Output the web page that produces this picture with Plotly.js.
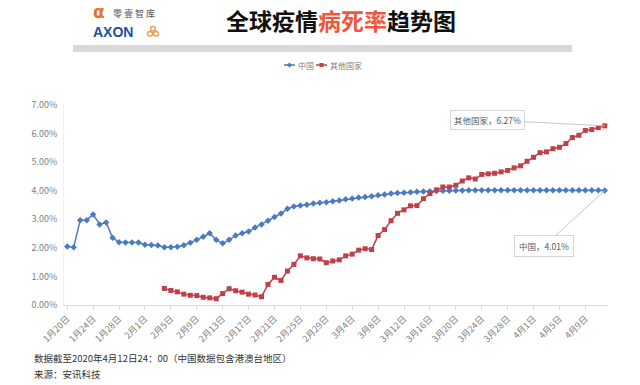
<!DOCTYPE html>
<html>
<head>
<meta charset="utf-8">
<script src="https://cdn.plot.ly/plotly-3.0.1.min.js"></script>
<style>
html,body{margin:0;padding:0;background:#ffffff;}
#chart{width:640px;height:385px;}
</style>
</head>
<body>
<div id="chart"></div>
<script>
// ---- data (case fatality rate, %) ----
const seriesNames = ["中国", "其他国家"];

// daily values from 1月20日 to 4月12日
const chinaRate = [
  2.05, 2.02, 2.97, 2.97, 3.17, 2.82, 2.89, 2.35, 2.20, 2.19,
  2.19, 2.19, 2.11, 2.10, 2.08, 2.02, 2.02, 2.04, 2.09, 2.18,
  2.28, 2.39, 2.51, 2.28, 2.16, 2.28, 2.43, 2.51, 2.57, 2.71,
  2.82, 2.95, 3.08, 3.20, 3.37, 3.45, 3.48, 3.51, 3.55, 3.58,
  3.60, 3.63, 3.66, 3.70, 3.73, 3.76, 3.78, 3.81, 3.84, 3.87,
  3.90, 3.92, 3.93, 3.95, 3.96, 3.97, 3.98, 3.99, 4.00, 4.00,
  4.01, 4.01, 4.02, 4.02, 4.02, 4.02, 4.02, 4.02, 4.02, 4.02,
  4.02, 4.02, 4.02, 4.02, 4.02, 4.02, 4.02, 4.02, 4.02, 4.02,
  4.02, 4.02, 4.02, 4.01
];

const otherRate = [
  null, null, null, null, null, null, null, null, null, null,
  null, null, null, null, null, 0.58, 0.51, 0.46, 0.38, 0.34,
  0.33, 0.27, 0.25, 0.22, 0.40, 0.57, 0.50, 0.45, 0.38, 0.35,
  0.29, 0.72, 0.97, 0.86, 1.19, 1.42, 1.72, 1.65, 1.62, 1.61,
  1.48, 1.54, 1.58, 1.72, 1.78, 1.92, 1.97, 1.94, 2.43, 2.64,
  2.95, 3.21, 3.33, 3.47, 3.48, 3.72, 3.90, 4.03, 4.13, 4.13,
  4.19, 4.34, 4.45, 4.41, 4.57, 4.59, 4.61, 4.66, 4.71, 4.80,
  4.87, 5.03, 5.17, 5.33, 5.36, 5.47, 5.52, 5.65, 5.86, 5.94,
  6.11, 6.14, 6.21, 6.27
];

// x-axis tick labels (every 4 days)
const tickLabels = [
  "1月20日", "1月24日", "1月28日", "2月1日", "2月5日", "2月9日", "2月13日",
  "2月17日", "2月21日", "2月25日", "2月29日", "3月4日", "3月8日", "3月12日",
  "3月16日", "3月20日", "3月24日", "3月28日", "4月1日", "4月5日", "4月9日"
];
const tickStep = 4;
const yTicks = [0, 1, 2, 3, 4, 5, 6, 7];

const titleParts = ["全球疫情", "病死率", "趋势图"];
const footLines = ["数据截至2020年4月12日24：00（中国数据包含港澳台地区）", "来源：安讯科技"];

// ---- layout helpers ----
const W = 640, H = 385, ML = 64, MR = 32, MT = 105, MB = 80;
const PW = W - ML - MR, PH = H - MT - MB;
const px = x => (x - ML) / PW;          // pixel x -> paper
const py = y => (H - MB - y) / PH;      // pixel y -> paper

const BLUE = "#4A7BC2", RED = "#C0404A";
const FONT = "'Noto Sans CJK SC', 'Noto Sans', sans-serif";

const idx = chinaRate.map((_, i) => i);
const tickVals = tickLabels.map((_, k) => k * tickStep);
const last = chinaRate.length - 1;

const traces = [
  {
    x: idx, y: chinaRate, name: seriesNames[0], type: "scatter", mode: "lines+markers",
    line: {color: BLUE, width: 1.5},
    marker: {symbol: "diamond", size: 5, color: BLUE},
    hoverinfo: "skip", showlegend: false
  },
  {
    x: idx, y: otherRate, name: seriesNames[1], type: "scatter", mode: "lines+markers",
    line: {color: RED, width: 1.5},
    marker: {symbol: "square", size: 5, color: RED},
    connectgaps: false, hoverinfo: "skip", showlegend: false
  }
];

// custom small legend
const legendItems = [
  {name: seriesNames[0], color: BLUE, x0: 284, marker: "diamond"},
  {name: seriesNames[1], color: RED, x0: 316, marker: "square"}
];
const legY = 65;

const shapes = [
  // grey header bar
  {type: "rect", xref: "paper", yref: "paper", x0: px(73), x1: px(572), y0: py(52), y1: py(45),
   fillcolor: "#d9d9d9", line: {width: 0}, layer: "below"},
  // orange logo icon
  {type: "circle", xref: "paper", yref: "paper", x0: px(150.5), x1: px(155.5), y0: py(31), y1: py(26.5),
   line: {color: "#F39A4A", width: 1.4}},
  {type: "circle", xref: "paper", yref: "paper", x0: px(147.5), x1: px(152.5), y0: py(36), y1: py(31.5),
   line: {color: "#F39A4A", width: 1.4}},
  {type: "circle", xref: "paper", yref: "paper", x0: px(153.5), x1: px(158.5), y0: py(36), y1: py(31.5),
   line: {color: "#F39A4A", width: 1.4}}
];
legendItems.forEach(it => {
  shapes.push({type: "line", xref: "paper", yref: "paper", x0: px(it.x0), x1: px(it.x0 + 11),
    y0: py(legY), y1: py(legY), line: {color: it.color, width: 1.5}});
  const cx = it.x0 + 5.5;
  if (it.marker === "diamond") {
    const d = 2.3;
    shapes.push({type: "path", xref: "paper", yref: "paper",
      path: `M ${px(cx - d)} ${py(legY)} L ${px(cx)} ${py(legY - d)} L ${px(cx + d)} ${py(legY)} L ${px(cx)} ${py(legY + d)} Z`,
      fillcolor: it.color, line: {color: it.color, width: 0.5}});
  } else {
    const d = 2;
    shapes.push({type: "rect", xref: "paper", yref: "paper", x0: px(cx - d), x1: px(cx + d),
      y0: py(legY + d), y1: py(legY - d), fillcolor: it.color, line: {width: 0}});
  }
});

const annotations = [
  // title
  {xref: "paper", yref: "paper", x: px(341), y: py(20), xanchor: "center", yanchor: "middle",
   showarrow: false,
   text: `<b>${titleParts[0]}<span style="color:#F2563C">${titleParts[1]}</span>${titleParts[2]}</b>`,
   font: {family: FONT, size: 23, color: "#111111"}},
  // logo
  {xref: "paper", yref: "paper", x: px(91), y: py(12), xanchor: "left", yanchor: "middle",
   showarrow: false, text: "<b>α</b>", font: {family: "'DejaVu Sans', sans-serif", size: 17, color: "#EE6F2D"}},
  {xref: "paper", yref: "paper", x: px(111), y: py(13), xanchor: "left", yanchor: "middle",
   showarrow: false, text: "零 壹 智 库", font: {family: FONT, size: 9, color: "#555555"}},
  {xref: "paper", yref: "paper", x: px(91), y: py(31.5), xanchor: "left", yanchor: "middle",
   showarrow: false, text: "<b>AXON</b>", font: {family: "'Liberation Sans', Arial, sans-serif", size: 14, color: "#1C4F9E"}},
  // footer
  {xref: "paper", yref: "paper", x: px(32), y: py(358), xanchor: "left", yanchor: "middle",
   showarrow: false, text: footLines[0], font: {family: FONT, size: 9.5, color: "#333333"}},
  {xref: "paper", yref: "paper", x: px(32), y: py(374), xanchor: "left", yanchor: "middle",
   showarrow: false, text: footLines[1], font: {family: FONT, size: 9.5, color: "#333333"}},
  // end-point callouts
  {x: last, y: otherRate[last], xref: "x", yref: "y",
   text: `${seriesNames[1]}，${otherRate[last].toFixed(2)}%`,
   showarrow: true, arrowhead: 0, arrowwidth: 1, arrowcolor: "#c8c8c8", standoff: 0,
   ax: -117, ay: -6, bgcolor: "#ffffff", bordercolor: "#d6d6d6", borderwidth: 1, borderpad: 3,
   font: {family: FONT, size: 8.5, color: "#595959"}},
  {x: last, y: chinaRate[last], xref: "x", yref: "y",
   text: `${seriesNames[0]}，${chinaRate[last].toFixed(2)}%`,
   showarrow: true, arrowhead: 0, arrowwidth: 1, arrowcolor: "#c8c8c8", standoff: 0,
   ax: -61, ay: 56, bgcolor: "#ffffff", bordercolor: "#d6d6d6", borderwidth: 1, borderpad: 4,
   font: {family: FONT, size: 8.5, color: "#595959"}}
];
legendItems.forEach(it => {
  annotations.push({xref: "paper", yref: "paper", x: px(it.x0 + 12), y: py(legY), xanchor: "left",
    yanchor: "middle", showarrow: false, text: it.name, font: {family: FONT, size: 8, color: "#808080"}});
});

const layout = {
  width: W, height: H,
  margin: {l: ML, r: MR, t: MT, b: MB, pad: 0},
  paper_bgcolor: "#ffffff", plot_bgcolor: "#ffffff",
  showlegend: false,
  font: {family: FONT, size: 9, color: "#7f7f7f"},
  xaxis: {
    range: [-0.5, last + 0.5], tickmode: "array", tickvals: tickVals, ticktext: tickLabels,
    tickangle: -45, tickfont: {family: FONT, size: 9, color: "#7f7f7f"},
    showgrid: false, zeroline: false, showline: true, linecolor: "#d9d9d9", linewidth: 1,
    ticks: "outside", ticklen: 4, tickcolor: "#d9d9d9", fixedrange: true
  },
  yaxis: {
    range: [0, 7], tickmode: "array", tickvals: yTicks,
    ticktext: yTicks.map(v => v.toFixed(2) + "%"),
    tickfont: {family: FONT, size: 9, color: "#7f7f7f"},
    showgrid: false, zeroline: false, showline: true, linecolor: "#f0f0f0", linewidth: 1,
    ticks: "", ticklabelstandoff: 4, fixedrange: true
  },
  shapes: shapes,
  annotations: annotations
};

Plotly.newPlot("chart", traces, layout, {displayModeBar: false, staticPlot: true});
</script>
</body>
</html>
